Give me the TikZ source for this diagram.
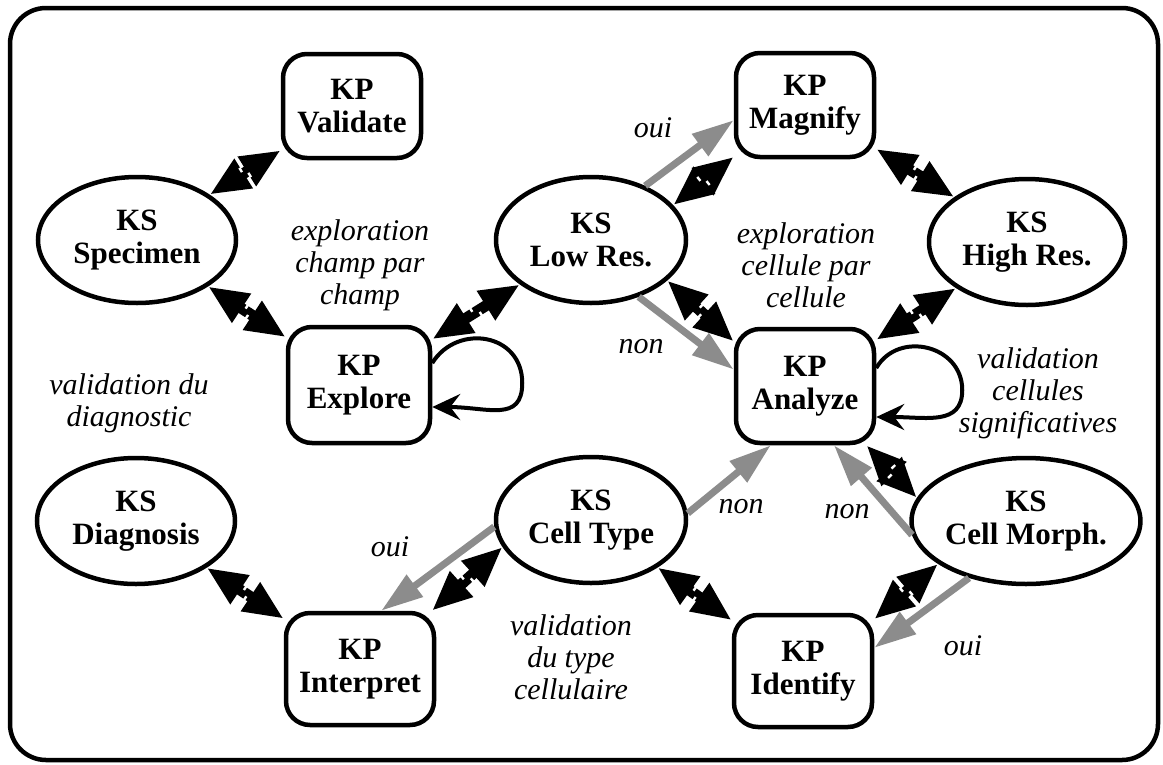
\documentclass[tikz,border=0pt]{standalone}
\usepackage{fontspec}
\setmainfont{Liberation Serif}
\usetikzlibrary{arrows.meta,shapes.geometric,decorations.markings}
\tikzset{
  ks/.style={ellipse, draw, line width=4.5pt, inner sep=0pt, align=center,
    minimum width=196pt, minimum height=126pt,
    font=\fontsize{31}{33}\selectfont\bfseries},
  kp/.style={rectangle, rounded corners=24pt, draw, line width=4.5pt, inner sep=0pt, align=center,
    minimum width=138pt, minimum height=104pt,
    font=\fontsize{31}{33}\selectfont\bfseries},
  remark/.style={align=center, font=\fontsize{30}{32}\selectfont\itshape},
  both/.style={line width=11pt, {Triangle[length=40pt,width=32pt]}-{Triangle[length=40pt,width=32pt]},
    postaction={decorate, decoration={markings,
      mark=at position .47 with {\fill[white] (-1.2pt,2pt) rectangle (1.2pt,7pt);},
      mark=at position .53 with {\fill[white] (-1.2pt,-2pt) rectangle (1.2pt,-7pt);}}}},
  hint/.style={line width=7pt, black!45, -{Triangle[length=42pt,width=26pt]}},
  selfloop/.style={line width=4pt, -{Stealth[length=28pt,width=26pt,inset=10pt]}},
}
\begin{document}
\begin{tikzpicture}[x=1pt,y=-1pt]
  \useasboundingbox (0,0) rectangle (1163,764);
  \draw [line width=4.5pt, rounded corners=36pt] (10,8) rectangle (1158,760);
  % knowledge sources
  \node [ks, minimum width=198pt] (specimen) at (137,240) {KS\\Specimen};
  \node [ks, minimum width=190pt] (lowres) at (591,240) {KS\\Low Res.};
  \node [ks] (highres) at (1027,242) {KS\\High Res.};
  \node [ks, minimum width=198pt] (diagnosis) at (136,521) {KS\\Diagnosis};
  \node [ks, minimum width=190pt] (celltype) at (591,520) {KS\\Cell Type};
  \node [ks, minimum width=198pt] (cellmorph) at (1026,521) {KS\\Cell Morph.};
  % knowledge processes
  \node [kp] (validate) at (352,106) {KP\\Validate};
  \node [kp] (magnify) at (805,105) {KP\\Magnify};
  \node [kp, minimum width=142pt, minimum height=116pt] (explore) at (359,385) {KP\\Explore};
  \node [kp, minimum height=114pt] (analyze) at (805,386) {KP\\Analyze};
  \node [kp, minimum width=148pt, minimum height=112pt] (interpret) at (360,669) {KP\\Interpret};
  \node [kp, minimum height=112pt] (identify) at (803,671) {KP\\Identify};
  % comments
  \node [remark] (champ) at (360,265) {exploration\\champ par\\champ};
  \node [remark] (cellule) at (806,265) {exploration\\cellule par\\cellule};
  \node [remark] (diagval) at (129,403) {validation du\\diagnostic};
  \node [remark] (signif) at (1038,393) {validation\\cellules\\significatives};
  \node [remark] (typeval) at (571,657) {validation\\du type\\cellulaire};
  \node [remark] (ouimagnify) at (653,128) {oui};
  \node [remark] (nonlowres) at (641,347) {non};
  \node [remark] (noncelltype) at (741,507) {non};
  \node [remark] (noncellmorph) at (847,512) {non};
  \node [remark] (ouiinterpret) at (390,547) {oui};
  \node [remark] (ouiidentify) at (963,646) {oui};
  % links
  \foreach \a/\b in {specimen/validate, specimen/explore, explore/lowres, lowres.23/magnify.216,
      magnify/highres, lowres.-28/analyze.148, highres/analyze, analyze.-44/cellmorph.168,
      diagnosis/interpret, celltype.197/interpret.39, celltype/identify, cellmorph.206/identify.36}
    \draw [both] (\a) -- (\b);
  \draw [hint] (lowres.45) -- (magnify.192);
  \draw [hint] (lowres.-50) -- (analyze.167);
  \draw [hint] (celltype.4) -- (analyze.240);
  \draw [hint] (cellmorph.187) -- (analyze.-64);
  \draw [hint] (celltype.184) -- (interpret.70);
  \draw [hint] (cellmorph.225) -- (identify.18);
  % loops
  \draw [selfloop] ([yshift=22pt]explore.east) .. controls +(25,-40) and +(0,-50) .. ([xshift=90pt,yshift=2pt]explore.east)
    .. controls +(0,40) and +(55,0) .. ([yshift=-22pt]explore.east);
  \draw [selfloop] ([yshift=18pt]analyze.east) .. controls +(22,-38) and +(0,-45) .. ([xshift=86pt,yshift=-4pt]analyze.east)
    .. controls +(0,36) and +(50,0) .. ([yshift=-31pt]analyze.east);
\end{tikzpicture}
\end{document}
